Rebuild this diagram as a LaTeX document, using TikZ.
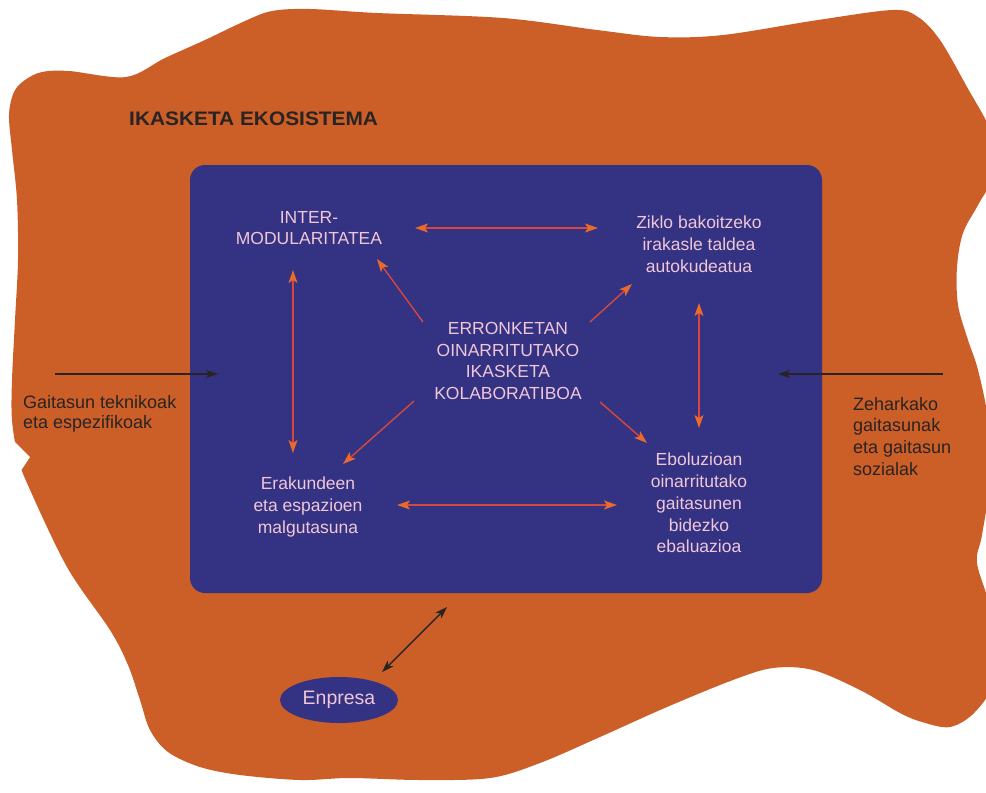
\documentclass[tikz,border=0pt]{standalone}
\usepackage{fontspec}
\setmainfont{Liberation Sans}
\usetikzlibrary{arrows.meta,shapes.geometric}
\definecolor{blobor}{RGB}{204,94,40}
\definecolor{boxblue}{RGB}{52,50,130}
\definecolor{pinktxt}{RGB}{240,198,216}
\definecolor{linered}{RGB}{214,72,62}
\definecolor{tipor}{RGB}{234,106,44}
\definecolor{darktxt}{RGB}{40,36,36}
\tikzset{
  otip/.tip={Stealth[length=13pt,width=9pt,inset=3pt,color=tipor]},
  ktip/.tip={Stealth[length=12pt,width=8pt,inset=3pt,color=darktxt]},
  oarrow/.style={draw=linered,line width=1.4pt},
  karrow/.style={draw=darktxt,line width=1.4pt},
  intxt/.style={text=pinktxt,align=center,inner sep=0pt,font=\fontsize{17.5}{21.8}\selectfont},
  sidetxt/.style={text=darktxt,align=left,inner sep=0pt},
  ecobox/.style={fill=boxblue,rounded corners=15pt,minimum width=632pt,minimum height=428pt,inner sep=0pt},
  firmbox/.style={ellipse,fill=boxblue,minimum width=118pt,minimum height=46pt,inner sep=0pt,text=pinktxt,font=\fontsize{19.5}{22}\selectfont}
}
\begin{document}
\begin{tikzpicture}[x=1pt,y=-1pt]
\useasboundingbox (0,0) rectangle (986,793);
\clip (0,0) rectangle (986,793);
% ecosystem blob
\fill[blobor] plot[smooth cycle, tension=0.55] coordinates {
(69,71) (126,77) (165,58) (205,40) (245,21) (272,11) (310,9) (377,13) (503,18)
(597,30) (660,37) (723,35) (818,20) (893,10) (918,17) (940,40) (967,87) (990,130)
(996,170) (978,205) (963,233) (957,267) (958,305) (968,340) (978,370) (988,420)
(990,480) (982,535) (977,563) (990,610) (993,680) (975,712) (950,727) (922,722)
(900,713) (860,690) (813,670) (773,668) (733,680) (667,707) (600,737) (540,763)
(490,778) (420,780) (350,778) (300,780) (240,775) (200,767) (168,752) (150,730)
(140,700) (128,665) (110,630) (67,567) (27,483) (18,457) (12,420) (12,380)
(15,320) (18,260) (17,200) (12,150) (9,115) (14,92) (25,80) (42,72)};
\fill[white] (0,435) -- (13,440) -- (30,457) -- (20,472) -- (0,480) -- cycle;

% title
\node[anchor=base west,inner sep=0pt,text=darktxt,font=\fontsize{19.5}{22}\selectfont\bfseries] (title) at (129,125) {\scalebox{1.07}[1]{IKASKETA EKOSISTEMA}};

% main box
\node[ecobox] (eco) at (506,379) {};

% inner texts
\node[intxt] (inter) at (309,228) {INTER-\\MODULARITATEA};
\node[intxt] (center) at (508,361) {ERRONKETAN\\OINARRITUTAKO\\IKASKETA\\KOLABORATIBOA};
\node[intxt] (ziklo) at (699,244) {Ziklo bakoitzeko\\irakasle taldea\\autokudeatua};
\node[intxt] (erak) at (308,507) {Erakundeen\\eta espazioen\\malgutasuna};
\node[intxt] (ebol) at (699,503) {Eboluzioan\\oinarritutako\\gaitasunen\\bidezko\\ebaluazioa};

% side texts
\node[sidetxt,anchor=north west,font=\fontsize{18}{20}\selectfont] (lefttxt) at (23,395) {Gaitasun teknikoak\\eta espezifikoak};
\node[sidetxt,anchor=north west,font=\fontsize{18}{21.7}\selectfont] (righttxt) at (853,397) {Zeharkako\\gaitasunak\\eta gaitasun\\sozialak};

% company
\node[firmbox] (firm) at (339,700) {Enpresa};

% connector end points
\coordinate (topL) at (415,228);
\coordinate (topR) at (598,228);
\coordinate (botL) at (397,505);
\coordinate (botR) at (617,505);
\coordinate (vlT) at (293,270);
\coordinate (vlB) at (293,453);
\coordinate (vrT) at (699,303);
\coordinate (vrB) at (699,428);
\coordinate (cTL) at (423,322);
\coordinate (cTR) at (590,322);
\coordinate (cBL) at (414,401);
\coordinate (cBR) at (600,402);
\coordinate (dTL) at (377,259);
\coordinate (dTR) at (632,284);
\coordinate (dBL) at (343,464);
\coordinate (dBR) at (647,443);
\coordinate (inLs) at (55,374);
\coordinate (inLe) at (218,374);
\coordinate (inRs) at (943,374);
\coordinate (inRe) at (778,374);
\coordinate (firmA) at (382,672);
\coordinate (firmB) at (447,607);

% orange arrows
\draw[oarrow,otip-otip] (topL) -- (topR);
\draw[oarrow,otip-otip] (botL) -- (botR);
\draw[oarrow,otip-otip] (vlT) -- (vlB);
\draw[oarrow,otip-otip] (vrT) -- (vrB);
\draw[oarrow,-otip] (cTL) -- (dTL);
\draw[oarrow,-otip] (cTR) -- (dTR);
\draw[oarrow,-otip] (cBL) -- (dBL);
\draw[oarrow,-otip] (cBR) -- (dBR);

% black arrows
\draw[karrow,-ktip] (inLs) -- (inLe);
\draw[karrow,-ktip] (inRs) -- (inRe);
\draw[karrow,ktip-ktip] (firmA) -- (firmB);
\end{tikzpicture}
\end{document}
